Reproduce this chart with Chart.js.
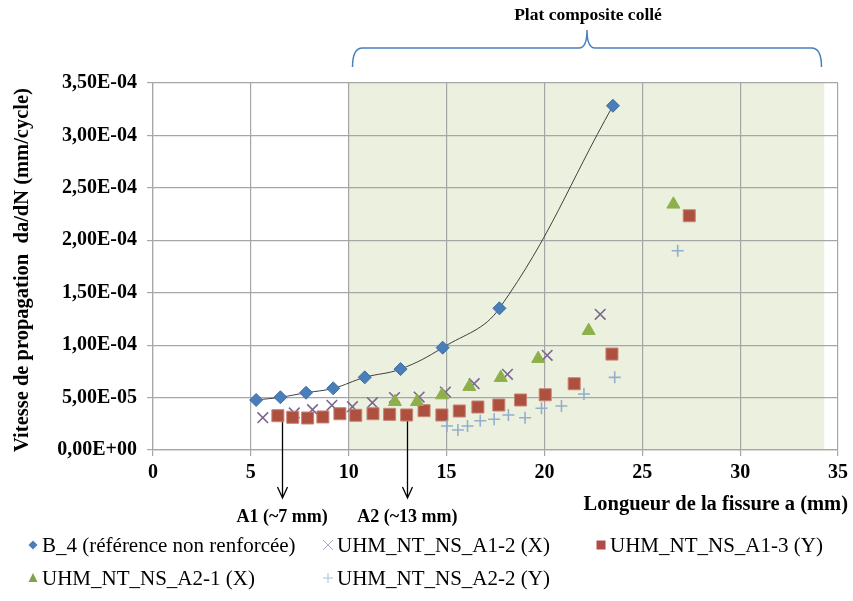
<!DOCTYPE html>
<html>
<head>
<meta charset="utf-8">
<script src="https://cdn.jsdelivr.net/npm/chart.js@4.4.1/dist/chart.umd.min.js"></script>
<style>
  html, body { margin: 0; padding: 0; background: #fff; }
  #wrap { width: 853px; height: 601px; }
</style>
</head>
<body>
<div id="wrap"><canvas id="chart" width="853" height="601"></canvas></div>
<script>
// longueur de fissure a (mm) et vitesse da/dN (mm/cycle) pour chaque éprouvette
const b4X = [5.27, 6.51, 7.82, 9.21, 10.82, 12.65, 14.8, 17.7, 23.5];
const b4Y = [4.77e-5, 5.03e-5, 5.46e-5, 5.88e-5, 6.93e-5, 7.72e-5, 9.76e-5, 1.351e-4, 3.283e-4];

const a12X = [5.61, 7.22, 8.15, 9.14, 10.19, 11.21, 12.34, 13.6, 14.94, 16.41, 18.11, 20.14, 22.85];
const a12Y = [3.08e-5, 3.53e-5, 3.85e-5, 4.26e-5, 4.13e-5, 4.51e-5, 5.0e-5, 5.05e-5, 5.53e-5, 6.32e-5, 7.22e-5, 9.03e-5, 1.294e-4];

const a13X = [6.38, 7.14, 7.9, 8.68, 9.55, 10.36, 11.24, 12.09, 12.96, 13.85, 14.76, 15.65, 16.6, 17.67, 18.78, 20.04, 21.52, 23.45, 27.4];
const a13Y = [3.27e-5, 3.12e-5, 3.05e-5, 3.15e-5, 3.46e-5, 3.31e-5, 3.46e-5, 3.4e-5, 3.34e-5, 3.75e-5, 3.34e-5, 3.72e-5, 4.1e-5, 4.29e-5, 4.77e-5, 5.27e-5, 6.32e-5, 9.15e-5, 2.234e-4];

const a21X = [12.36, 13.49, 14.77, 16.16, 17.77, 19.68, 22.26, 26.59];
const a21Y = [4.6e-5, 4.6e-5, 5.24e-5, 6.04e-5, 6.9e-5, 8.71e-5, 1.138e-4, 2.343e-4];

const a22X = [15.02, 15.58, 16.07, 16.72, 17.43, 18.16, 19.01, 19.85, 20.87, 22.02, 23.59, 26.81];
const a22Y = [2.29e-5, 1.91e-5, 2.29e-5, 2.79e-5, 2.93e-5, 3.34e-5, 3.08e-5, 3.98e-5, 4.2e-5, 5.34e-5, 6.93e-5, 1.9e-4];

const seriesNames = ['B_4 (référence non renforcée)', 'UHM_NT_NS_A1-2 (X)', 'UHM_NT_NS_A1-3 (Y)', 'UHM_NT_NS_A2-1 (X)', 'UHM_NT_NS_A2-2 (Y)'];
const xRange = [0, 35];
const yRange = [0, 3.5e-4];
const xStep = 5;
const yStep = 5e-5;
const platZone = [10, 34.3];
const arrowX = [6.6, 13];
const arrowLabels = ['A1 (~7 mm)', 'A2 (~13 mm)'];
const zoneTitle = 'Plat composite collé';
const xTitle = 'Longueur de la fissure a (mm)';
const yTitle = 'Vitesse de propagation  da/dN (mm/cycle)';

const FONT = "'Liberation Serif', 'Times New Roman', serif";

function pts(xs, ys) { return xs.map((x, i) => ({ x: x, y: ys[i] })); }

function sci(v) {
    if (Math.abs(v) < 1e-12) return '0,00E+00';
    const parts = v.toExponential(2).split('e');
    const e = parseInt(parts[1]);
    return parts[0].replace('.', ',') + 'E' + (e < 0 ? '-' : '+') + String(Math.abs(e)).padStart(2, '0');
}

// petits symboles pour la légende
function drawMarker(ctx, kind, x, y, color) {
    ctx.save();
    ctx.fillStyle = color;
    ctx.strokeStyle = color;
    ctx.lineWidth = 1;
    ctx.beginPath();
    if (kind === 'diamond') {
        ctx.moveTo(x, y - 4.5); ctx.lineTo(x + 4.5, y); ctx.lineTo(x, y + 4.5); ctx.lineTo(x - 4.5, y);
        ctx.closePath(); ctx.fill();
    } else if (kind === 'x') {
        ctx.moveTo(x - 5, y - 5); ctx.lineTo(x + 5, y + 5);
        ctx.moveTo(x + 5, y - 5); ctx.lineTo(x - 5, y + 5);
        ctx.stroke();
    } else if (kind === 'square') {
        ctx.fillRect(x - 4.5, y - 4.5, 9, 9);
    } else if (kind === 'triangle') {
        ctx.moveTo(x, y - 5); ctx.lineTo(x + 4.5, y + 4); ctx.lineTo(x - 4.5, y + 4);
        ctx.closePath(); ctx.fill();
    } else if (kind === 'plus') {
        ctx.moveTo(x - 5, y); ctx.lineTo(x + 5, y);
        ctx.moveTo(x, y - 5); ctx.lineTo(x, y + 5);
        ctx.stroke();
    }
    ctx.restore();
}

const legendItems = [
    { kind: 'diamond', color: '#4A7EBB', x: 33, y: 545 },
    { kind: 'x', color: '#B3A7C6', x: 328, y: 545 },
    { kind: 'square', color: '#B04A45', x: 601, y: 545 },
    { kind: 'triangle', color: '#7FA346', x: 33, y: 578 },
    { kind: 'plus', color: '#A9BFDA', x: 328, y: 578 }
];

const decorations = {
    id: 'decorations',
    beforeDraw(chart) {
        const ctx = chart.ctx;
        const xs = chart.scales.x;
        const a = chart.chartArea;
        ctx.save();
        ctx.fillStyle = '#EBF1DE';
        const x0 = xs.getPixelForValue(platZone[0]);
        const x1 = xs.getPixelForValue(platZone[1]);
        ctx.fillRect(x0, a.top, x1 - x0, a.bottom - a.top);
        ctx.restore();
    },
    beforeDatasetsDraw(chart) {
        const ctx = chart.ctx;
        const xs = chart.scales.x;
        ctx.save();
        ctx.strokeStyle = '#000';
        ctx.lineWidth = 1.3;
        arrowX.forEach(v => {
            const px = Math.round(xs.getPixelForValue(v)) + 0.5;
            ctx.beginPath();
            ctx.moveTo(px, 410);
            ctx.lineTo(px, 498);
            ctx.moveTo(px - 5, 487);
            ctx.lineTo(px, 498);
            ctx.lineTo(px + 5, 487);
            ctx.stroke();
        });
        ctx.restore();
    },
    afterDraw(chart) {
        const ctx = chart.ctx;
        const xs = chart.scales.x;
        ctx.save();
        ctx.fillStyle = '#000';
        ctx.textBaseline = 'middle';

        // étiquettes des flèches
        ctx.font = 'bold 18px ' + FONT;
        ctx.textAlign = 'center';
        arrowX.forEach((v, i) => {
            ctx.fillText(arrowLabels[i], xs.getPixelForValue(v), 517);
        });

        // titre de l'axe x
        ctx.font = 'bold 20.5px ' + FONT;
        ctx.textAlign = 'right';
        ctx.fillText(xTitle, 848, 505);

        // titre de l'axe y
        ctx.save();
        ctx.translate(23, 270);
        ctx.rotate(-Math.PI / 2);
        ctx.textAlign = 'center';
        ctx.font = 'bold 20.5px ' + FONT;
        ctx.fillText(yTitle, 0, 0);
        ctx.restore();

        // accolade + titre de la zone renforcée
        ctx.font = 'bold 17.5px ' + FONT;
        ctx.textAlign = 'center';
        ctx.fillText(zoneTitle, 588, 15);
        const bl = 352.5, br = 821.5, bm = 587, by = 48;
        ctx.strokeStyle = '#4A7EBB';
        ctx.lineWidth = 1.5;
        ctx.beginPath();
        ctx.moveTo(bl, 67);
        ctx.quadraticCurveTo(bl, by, bl + 10, by);
        ctx.lineTo(bm - 8, by);
        ctx.quadraticCurveTo(bm, by, bm, 30);
        ctx.quadraticCurveTo(bm, by, bm + 8, by);
        ctx.lineTo(br - 10, by);
        ctx.quadraticCurveTo(br, by, br, 67);
        ctx.stroke();

        // légende
        ctx.font = '21px ' + FONT;
        ctx.textAlign = 'left';
        legendItems.forEach((it, i) => {
            drawMarker(ctx, it.kind, it.x, it.y, it.color);
            ctx.fillStyle = '#000';
            ctx.fillText(seriesNames[i], it.x + 9, it.y + 1);
        });
        ctx.restore();
    }
};

new Chart(document.getElementById('chart'), {
    type: 'scatter',
    data: {
        datasets: [
            {
                label: seriesNames[0],
                data: pts(b4X, b4Y),
                showLine: true,
                tension: 0.4,
                borderColor: '#404040',
                borderWidth: 1,
                pointStyle: 'rectRot',
                pointRadius: 6.5,
                pointBackgroundColor: '#4A7EBB',
                pointBorderColor: '#3D6D9F',
                pointBorderWidth: 1,
                order: 5
            },
            {
                label: seriesNames[1],
                data: pts(a12X, a12Y),
                pointStyle: 'crossRot',
                pointRadius: 7.5,
                pointBorderColor: '#7B6790',
                pointBorderWidth: 1.6,
                order: 4
            },
            {
                label: seriesNames[2],
                data: pts(a13X, a13Y),
                pointStyle: 'rect',
                pointRadius: 8.5,
                pointBackgroundColor: '#AE5040',
                pointBorderColor: '#C88474',
                pointBorderWidth: 1,
                order: 3
            },
            {
                label: seriesNames[3],
                data: pts(a21X, a21Y),
                pointStyle: 'triangle',
                pointRadius: 7.5,
                pointBackgroundColor: '#8DB04B',
                pointBorderColor: '#8DB04B',
                pointBorderWidth: 1,
                order: 2
            },
            {
                label: seriesNames[4],
                data: pts(a22X, a22Y),
                pointStyle: 'cross',
                pointRadius: 6,
                pointBorderColor: '#94AFCB',
                pointBorderWidth: 1.6,
                order: 1
            }
        ]
    },
    options: {
        responsive: false,
        animation: false,
        layout: { padding: { top: 83, right: 12, left: 0, bottom: 0 } },
        plugins: {
            legend: { display: false },
            tooltip: { enabled: false }
        },
        scales: {
            x: {
                type: 'linear',
                min: xRange[0],
                max: xRange[1],
                afterFit(scale) { scale.height = 151; },
                ticks: {
                    stepSize: xStep,
                    color: '#000',
                    padding: 5,
                    font: { family: FONT, size: 20, weight: 'bold' }
                },
                grid: { color: '#A6A6A6', lineWidth: 1.2, tickLength: 6 },
                border: { color: '#A6A6A6', width: 1.2 }
            },
            y: {
                min: yRange[0],
                max: yRange[1],
                afterFit(scale) { scale.width = 153; },
                ticks: {
                    stepSize: yStep,
                    color: '#000',
                    padding: 10,
                    callback: v => sci(v),
                    font: { family: FONT, size: 20, weight: 'bold' }
                },
                grid: { color: '#A6A6A6', lineWidth: 1.2, tickLength: 6 },
                border: { color: '#A6A6A6', width: 1.2 }
            }
        }
    },
    plugins: [decorations]
});
</script>
</body>
</html>
